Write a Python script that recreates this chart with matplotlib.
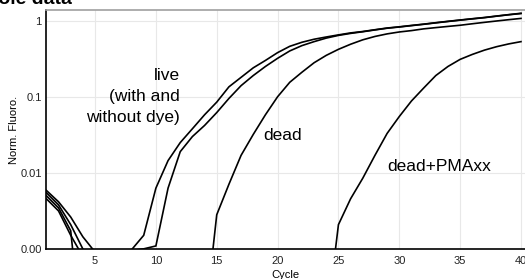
import matplotlib
matplotlib.use("Agg")
import matplotlib.pyplot as plt

plt.rcParams['font.family'] = ['Liberation Sans', 'DejaVu Sans']

# amplification curves, normalised fluorescence per cycle (values < 0 fall below the axis)
cycles = list(range(1, 41))

live_a = [0.0077, 0.0062, 0.0042, 0.0016, -0.0004, -0.002, -0.002, -0.0001, 0.0018, 0.0080,
          0.0145, 0.025, 0.038, 0.058, 0.085, 0.135, 0.18, 0.24, 0.30, 0.38,
          0.46, 0.52, 0.57, 0.61, 0.65, 0.69, 0.72, 0.76, 0.80, 0.83,
          0.865, 0.90, 0.94, 0.98, 1.02, 1.06, 1.10, 1.15, 1.20, 1.25]

live_b = [0.0074, 0.0058, 0.0032, 0.0000, -0.002, -0.002, -0.002, -0.0002, 0.00002, 0.0004,
          0.0080, 0.019, 0.030, 0.042, 0.062, 0.095, 0.14, 0.19, 0.25, 0.32,
          0.40, 0.47, 0.53, 0.59, 0.64, 0.68, 0.715, 0.755, 0.795, 0.825,
          0.86, 0.895, 0.935, 0.975, 1.015, 1.055, 1.095, 1.145, 1.195, 1.24]

dead = [0.0070, 0.0054, 0.0024, -0.020, -0.010, -0.010, -0.010, -0.010, -0.010, -0.010,
        -0.010, -0.010, -0.010, -0.010, 0.0045, 0.0085, 0.017, 0.032, 0.058, 0.10,
        0.155, 0.21, 0.28, 0.35, 0.42, 0.49, 0.56, 0.62, 0.67, 0.71,
        0.74, 0.78, 0.81, 0.84, 0.87, 0.91, 0.95, 0.99, 1.03, 1.07]

dead_pma = [0.0066, 0.0050, 0.0018, -0.001, -0.010, -0.010, -0.010, -0.010, -0.010, -0.010,
            -0.010, -0.010, -0.010, -0.010, -0.010, -0.010, -0.010, -0.010, -0.010, -0.010,
            -0.010, -0.010, -0.010, -0.010, 0.0032, 0.0066, 0.0093, 0.017, 0.033, 0.055,
            0.088, 0.13, 0.19, 0.25, 0.31, 0.36, 0.41, 0.455, 0.495, 0.53]

xticks = [5, 10, 15, 20, 25, 30, 35, 40]
yticks = [0, 0.01, 0.1, 1]
ytick_labels = ['0.00', '0.01', '0.1', '1']

fig = plt.figure(figsize=(5.25, 2.79), dpi=100)
ax = fig.add_axes([46 / 525, 1 - 249 / 279, 1 - 46 / 525, (249 - 10) / 279])

for series in (live_a, live_b, dead, dead_pma):
    ax.plot(cycles, series, color='black', lw=1.2, solid_joinstyle='miter')

ax.set_yscale('symlog', linthresh=0.01, linscale=0.9)
ax.set_ylim(0, 1.38)
ax.set_xlim(0.97, 40.33)
ax.set_xticks(xticks)
ax.set_yticks(yticks)
ax.set_yticklabels(ytick_labels)
ax.minorticks_off()
ax.tick_params(length=0, labelsize=8, colors='#222222')
ax.tick_params(axis='x', pad=5)
ax.tick_params(axis='y', pad=3)
ax.grid(True, color='#e8e8e8', lw=0.8)
ax.set_axisbelow(True)

ax.spines['right'].set_visible(False)
ax.spines['top'].set_color('#a0a0a0')
ax.spines['top'].set_linewidth(1.2)
ax.spines['left'].set_linewidth(1.2)
ax.spines['bottom'].set_linewidth(1.2)

ax.set_xlabel('Cycle', fontsize=8, labelpad=3)
ax.set_ylabel('Norm. Fluoro.', fontsize=8, labelpad=1)

ax.text(12.0, 0.1, 'live\n(with and\nwithout dye)', ha='right', va='center',
        fontsize=12.5, linespacing=1.5)
ax.text(18.8, 0.031, 'dead', ha='left', va='center', fontsize=12.5)
ax.text(29.0, 0.0123, 'dead+PMAxx', ha='left', va='center', fontsize=12.5)

fig.text(72 / 525, 1 - 4 / 279, 'Whole data', ha='right', va='baseline',
         fontsize=14, fontweight='bold')

fig.savefig('out.png', dpi=100)
